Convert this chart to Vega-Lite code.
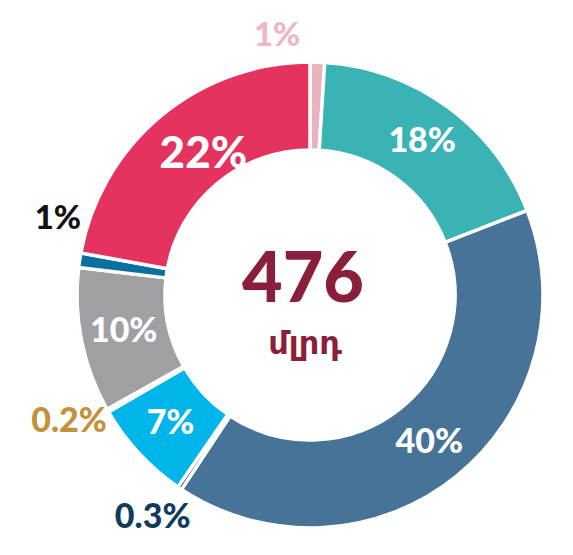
{
  "$schema": "https://vega.github.io/schema/vega-lite/v6.json",
  "width": 526,
  "height": 520,
  "autosize": "none",
  "padding": {"left": 47, "top": 35, "right": 0, "bottom": 0},
  "background": "white",
  "config": {"view": {"stroke": null}},
  "data": {
    "values": [
      {"idx": 1, "share": 1, "label": "1%"},
      {"idx": 2, "share": 18, "label": "18%"},
      {"idx": 3, "share": 40, "label": "40%"},
      {"idx": 4, "share": 0.3, "label": "0.3%"},
      {"idx": 5, "share": 7, "label": "7%"},
      {"idx": 6, "share": 0.2, "label": "0.2%"},
      {"idx": 7, "share": 10, "label": "10%"},
      {"idx": 8, "share": 1, "label": "1%"},
      {"idx": 9, "share": 22, "label": "22%"}
    ]
  },
  "encoding": {
    "theta": {"field": "share", "type": "quantitative", "stack": true},
    "order": {"field": "idx", "type": "quantitative"}
  },
  "layer": [
    {
      "mark": {"type": "arc", "outerRadius": 233, "innerRadius": 145, "stroke": "white", "strokeWidth": 3.5},
      "encoding": {
        "color": {
          "field": "idx", "type": "nominal", "legend": null,
          "scale": {
            "domain": [1, 2, 3, 4, 5, 6, 7, 8, 9],
            "range": ["#e8b3bf", "#3ab3b5", "#477399", "#0d3a5c", "#00b5ea", "#c8963e", "#a0a0a4", "#0b6fa0", "#e5335f"]
          }
        }
      }
    },
    {
      "mark": {"type": "text", "radius": 190, "font": "Lato", "fontWeight": 900, "fontSize": 34, "color": "white", "baseline": "middle", "align": "center"},
      "encoding": {
        "text": {"condition": {"test": "indexof([2,3,5,7], datum.idx) >= 0", "field": "label"}, "value": ""}
      }
    },
    {
      "mark": {"type": "text", "radius": 176, "dx": 6, "dy": -5, "font": "Lato", "fontWeight": 900, "fontSize": 44, "color": "white", "baseline": "middle", "align": "center"},
      "encoding": {
        "text": {"condition": {"test": "datum.idx == 9", "field": "label"}, "value": ""}
      }
    },
    {
      "mark": {"type": "text", "radius": 258, "dx": -41, "dy": -1, "font": "Lato", "fontWeight": 900, "fontSize": 33, "color": "#efb7c3", "baseline": "middle", "align": "center"},
      "encoding": {
        "text": {"condition": {"test": "datum.idx == 1", "field": "label"}, "value": ""}
      }
    },
    {
      "mark": {"type": "text", "radius": 258, "dx": 3, "dy": -37, "font": "Lato", "fontWeight": 900, "fontSize": 33, "color": "#111111", "baseline": "middle", "align": "center"},
      "encoding": {
        "text": {"condition": {"test": "datum.idx == 8", "field": "label"}, "value": ""}
      }
    },
    {
      "mark": {"type": "text", "radius": 258, "dx": -17, "dy": -1, "font": "Lato", "fontWeight": 900, "fontSize": 34, "color": "#c4913a", "baseline": "middle", "align": "center"},
      "encoding": {
        "text": {"condition": {"test": "datum.idx == 6", "field": "label"}, "value": ""}
      }
    },
    {
      "mark": {"type": "text", "radius": 258, "dx": -13, "dy": 9, "font": "Lato", "fontWeight": 900, "fontSize": 34, "color": "#0f3b5e", "baseline": "middle", "align": "center"},
      "encoding": {
        "text": {"condition": {"test": "datum.idx == 4", "field": "label"}, "value": ""}
      }
    },
    {
      "data": {"values": [{"t": "476"}]},
      "mark": {"type": "text", "dx": -7, "dy": -14, "font": "Lato", "fontWeight": 900, "fontSize": 70, "color": "#8a1f3b", "baseline": "middle", "align": "center"},
      "encoding": {"text": {"field": "t"}, "theta": null, "order": null}
    },
    {
      "data": {"values": [{"t": "մլրդ"}]},
      "mark": {"type": "text", "dx": -5, "dy": 49, "font": "DejaVu Sans", "fontWeight": "bold", "fontSize": 32, "color": "#8a1f3b", "baseline": "middle", "align": "center"},
      "encoding": {"text": {"field": "t"}, "theta": null, "order": null}
    }
  ]
}
